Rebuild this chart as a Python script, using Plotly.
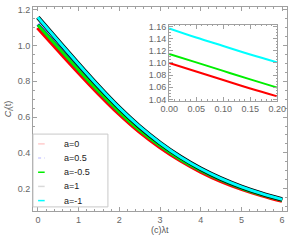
import plotly.graph_objects as go

# ---- data ----
t = [0, 0.5, 1, 1.5, 2, 2.5, 3, 3.5, 4, 4.5, 5, 5.5, 6]
c_a0 = [1.100, 0.975, 0.851, 0.731, 0.619, 0.519, 0.433, 0.359, 0.296, 0.243, 0.200, 0.164, 0.133]
c_a05 = [1.118, 0.991, 0.866, 0.744, 0.631, 0.529, 0.442, 0.366, 0.303, 0.250, 0.205, 0.169, 0.138]
c_am05 = [1.115, 0.988, 0.863, 0.741, 0.628, 0.526, 0.439, 0.363, 0.300, 0.247, 0.202, 0.166, 0.135]
c_a1 = [1.157, 1.025, 0.895, 0.769, 0.651, 0.546, 0.455, 0.377, 0.311, 0.256, 0.210, 0.172, 0.140]
c_am1 = [1.157, 1.025, 0.895, 0.769, 0.651, 0.546, 0.455, 0.377, 0.311, 0.256, 0.210, 0.172, 0.140]

t_in = [0.0, 0.05, 0.10, 0.15, 0.20]
in_a0 = [1.100, 1.086, 1.072, 1.058, 1.045]
in_am05 = [1.115, 1.101, 1.087, 1.073, 1.0595]
in_am1 = [1.157, 1.142, 1.128, 1.114, 1.101]

labels = ["a=0", "a=0.5", "a=-0.5", "a=1", "a=-1"]

fig = go.Figure()
main = [
    (c_a0, "#ff0000", 4.5),
    (c_a05, "#0000ff", 3.5),
    (c_am05, "#00ee00", 3),
    (c_a1, "#000000", 4.5),
    (c_am1, "#00ffff", 3),
]
for ys, col, w in main:
    fig.add_trace(go.Scatter(x=t, y=ys, mode="lines", line=dict(color=col, width=w, shape="spline"),
                             showlegend=False, hoverinfo="skip"))

for ys, col in [(in_a0, "#ff0000"), (in_am05, "#00ee00"), (in_am1, "#00ffff")]:
    fig.add_trace(go.Scatter(x=t_in, y=ys, mode="lines", line=dict(color=col, width=2, shape="spline"),
                             xaxis="x2", yaxis="y2", showlegend=False, hoverinfo="skip"))

axcol = "#a0a0a0"
tickfont = dict(family="Liberation Sans, Arial, sans-serif", size=9, color="#666666")
common = dict(showline=True, linecolor=axcol, linewidth=1, mirror="ticks", ticks="inside",
              tickcolor=axcol, ticklen=4, showgrid=False, zeroline=False, tickfont=tickfont)

fig.update_layout(
    width=300, height=241,
    margin=dict(l=33, r=6, t=4, b=30),
    plot_bgcolor="white", paper_bgcolor="white",
    xaxis=dict(range=[-0.12, 6.12], dtick=1, tick0=0,
               minor=dict(ticks="inside", ticklen=2, dtick=0.2, tickcolor=axcol),
               **common),
    yaxis=dict(range=[0.075, 1.215], dtick=0.2, tick0=0, tickformat=".1f",
               minor=dict(ticks="inside", ticklen=2, dtick=0.05, tickcolor=axcol),
               title=dict(text="<i>C<sub>l</sub></i>(t)", font=dict(family="Liberation Sans, Arial", size=9, color="#555555"),
                          standoff=4),
               **common),
    xaxis2=dict(domain=[0.536, 0.962], anchor="y2", range=[0, 0.2], dtick=0.05, tickformat=".2f",
                minor=dict(ticks="inside", ticklen=1.5, dtick=0.01, tickcolor=axcol),
                **common),
    yaxis2=dict(domain=[0.541, 0.913], anchor="x2", range=[1.038, 1.163], dtick=0.02, tick0=1.04,
                tickformat=".2f",
                minor=dict(ticks="inside", ticklen=1.5, dtick=0.005, tickcolor=axcol),
                **common),
)

# manual legend (paper coordinates)
shapes = [dict(type="rect", xref="paper", yref="paper", x0=0.0, x1=0.295, y0=0.02, y1=0.377,
               line=dict(color="#c8c8c8", width=1), fillcolor="white", layer="above")]
leg_cols = ["rgba(255,0,0,0.2)", "rgba(0,0,255,0.2)", "#00ee00", "rgba(0,0,0,0.15)", "#00ffff"]
leg_dash = ["solid", "dot", "solid", "solid", "solid"]
ann = []
for i, (lab, col, dsh) in enumerate(zip(labels, leg_cols, leg_dash)):
    yy = 0.329 - i * 0.0695
    shapes.append(dict(type="line", xref="paper", yref="paper", x0=0.02, x1=0.046, y0=yy, y1=yy,
                       line=dict(color=col, width=1.5, dash=dsh), layer="above"))
    ann.append(dict(xref="paper", yref="paper", x=0.115, y=yy, text=lab, showarrow=False,
                    xanchor="left", yanchor="middle",
                    font=dict(family="Liberation Sans, Arial", size=9, color="#222222")))
# x-axis title
ann.append(dict(xref="paper", yref="paper", x=0.5, y=-0.092, text="(c)\u03bbt", showarrow=False,
                xanchor="center", yanchor="middle",
                font=dict(family="Liberation Sans, Arial", size=9, color="#555555")))
fig.update_layout(shapes=shapes, annotations=ann)

fig.write_html("out.html", config={"displayModeBar": False},
               post_script="document.body.style.margin='0px';document.body.style.overflow='hidden';")
